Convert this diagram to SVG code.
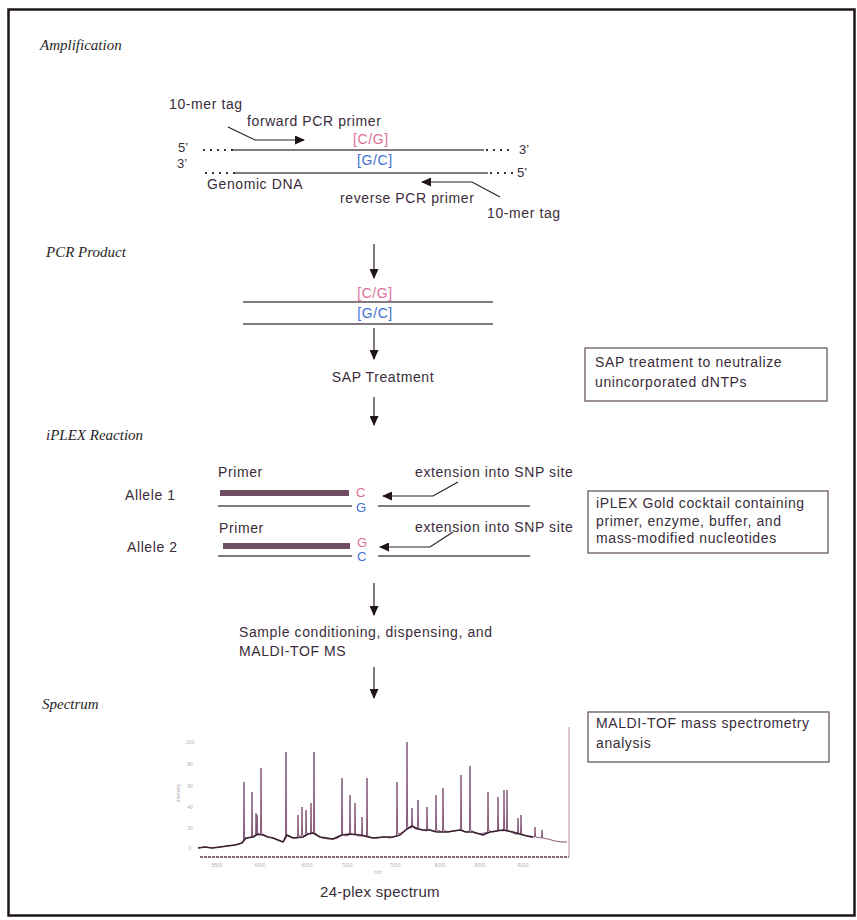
<svg xmlns="http://www.w3.org/2000/svg" width="857" height="920" viewBox="0 0 857 920">
<style>
.t{font-family:"Liberation Sans",Arial,sans-serif;font-size:14px;fill:#3a2c3a;letter-spacing:0.6px}
.sec{font-family:"Liberation Serif","Times New Roman",serif;font-style:italic;font-size:15px;fill:#2a1e28}
.pk{fill:#e0709a}
.bl{fill:#3f6fd6}
.sm{font-size:13px;letter-spacing:0}
.strand{stroke:#5a4a58;stroke-width:1.4;fill:none}
.dots{stroke:#3a2c3a;stroke-width:2;stroke-dasharray:2 5;fill:none}
.arr{stroke:#2a1e28;stroke-width:1.2;fill:none}
.box{fill:none;stroke:#6a5a68;stroke-width:1.3}
.tick{font-family:"Liberation Sans",Arial,sans-serif;font-size:5px;fill:#b8b0b8}
</style>
<defs>
<marker id="ah" markerWidth="10" markerHeight="9" refX="9" refY="4.5" orient="auto" markerUnits="userSpaceOnUse">
<path d="M0,0 L10,4.5 L0,9 z" fill="#1e141c"/>
</marker>
</defs>
<rect x="0" y="0" width="857" height="920" fill="#ffffff"/>
<rect x="8.5" y="9.5" width="846" height="906" fill="none" stroke="#1e141c" stroke-width="2.5"/>

<g id="section-labels">
<text class="sec" x="40" y="50">Amplification</text>
<text class="sec" x="46" y="257">PCR Product</text>
<text class="sec" x="46" y="440">iPLEX Reaction</text>
<text class="sec" x="42" y="709">Spectrum</text>
</g>

<g id="amplification">
<text class="t" x="169" y="109">10-mer tag</text>
<text class="t" x="247" y="126">forward PCR primer</text>
<text class="t pk" x="353" y="144">[C/G]</text>
<text class="t sm" x="178" y="152">5’</text>
<line class="dots" x1="203" y1="150" x2="233" y2="150"/>
<line class="strand" x1="233" y1="150" x2="484" y2="150"/>
<line class="dots" x1="486" y1="150" x2="514" y2="150"/>
<text class="t sm" x="519" y="154">3’</text>
<text class="t bl" x="357" y="165">[G/C]</text>
<text class="t sm" x="177" y="168">3’</text>
<line class="dots" x1="205" y1="173" x2="235" y2="173"/>
<line class="strand" x1="235" y1="173" x2="488" y2="173"/>
<line class="dots" x1="490" y1="173" x2="514" y2="173"/>
<text class="t sm" x="517" y="177">5’</text>
<text class="t" x="207" y="189">Genomic DNA</text>
<text class="t" x="340" y="203">reverse PCR primer</text>
<text class="t" x="487" y="218">10-mer tag</text>
</g>

<g id="pcr-product">
<text class="t pk" x="375" y="298" text-anchor="middle">[C/G]</text>
<line class="strand" x1="243" y1="302" x2="493" y2="302"/>
<text class="t bl" x="375" y="318" text-anchor="middle">[G/C]</text>
<line class="strand" x1="243" y1="324" x2="493" y2="324"/>
</g>

<g id="sap-treatment">
<text class="t" x="383" y="382" text-anchor="middle">SAP Treatment</text>
</g>

<g id="sap-note">
<rect class="box" x="585" y="348" width="242" height="53"/>
<text class="t" x="595" y="367">SAP treatment to neutralize</text>
<text class="t" x="595" y="387">unincorporated dNTPs</text>
</g>

<g id="iplex-reaction">
<text class="t" x="218" y="477">Primer</text>
<text class="t" x="415" y="477">extension into SNP site</text>
<text class="t" x="125" y="500">Allele 1</text>
<rect x="220" y="490" width="129" height="6" fill="#6e4e62"/>
<text class="t pk sm" x="356" y="497">C</text>
<line class="strand" x1="218" y1="506" x2="352" y2="506"/>
<text class="t bl sm" x="356" y="512">G</text>
<line class="strand" x1="378" y1="506" x2="530" y2="506"/>
<text class="t" x="219" y="533">Primer</text>
<text class="t" x="415" y="532">extension into SNP site</text>
<text class="t" x="127" y="552">Allele 2</text>
<rect x="223" y="543" width="127" height="6" fill="#6e4e62"/>
<text class="t pk sm" x="357" y="547">G</text>
<line class="strand" x1="218" y1="556" x2="352" y2="556"/>
<text class="t bl sm" x="357" y="561">C</text>
<line class="strand" x1="378" y1="556" x2="530" y2="556"/>
</g>

<g id="iplex-note">
<rect class="box" x="588" y="491" width="240" height="62"/>
<text class="t" x="596" y="508">iPLEX Gold cocktail containing</text>
<text class="t" x="596" y="526">primer, enzyme, buffer, and</text>
<text class="t" x="596" y="543">mass-modified nucleotides</text>
</g>

<g id="maldi-step">
<text class="t" x="239" y="637">Sample conditioning, dispensing, and</text>
<text class="t" x="239" y="656">MALDI-TOF MS</text>
</g>

<g id="maldi-note">
<rect class="box" x="588" y="712" width="241" height="50"/>
<text class="t" x="596" y="728">MALDI-TOF mass spectrometry</text>
<text class="t" x="596" y="748">analysis</text>
</g>

<g id="spectrum">
<line x1="200" y1="857" x2="569" y2="857" stroke="#5a3a50" stroke-width="1.6" stroke-dasharray="3 1"/>
<line x1="569" y1="727" x2="569" y2="857" stroke="#c090b0" stroke-width="1"/>
<text class="tick" x="190" y="744" text-anchor="middle">100</text>
<text class="tick" x="190" y="766" text-anchor="middle">80</text>
<text class="tick" x="190" y="788" text-anchor="middle">60</text>
<text class="tick" x="190" y="809" text-anchor="middle">40</text>
<text class="tick" x="190" y="830" text-anchor="middle">20</text>
<text class="tick" x="190" y="850" text-anchor="middle">0</text>
<text class="tick" transform="translate(180,793) rotate(-90)" text-anchor="middle">Intensity</text>
<text class="tick" x="217" y="867" text-anchor="middle">5500</text>
<text class="tick" x="260" y="867" text-anchor="middle">6000</text>
<text class="tick" x="307" y="867" text-anchor="middle">6500</text>
<text class="tick" x="347" y="867" text-anchor="middle">7000</text>
<text class="tick" x="395" y="867" text-anchor="middle">7500</text>
<text class="tick" x="440" y="867" text-anchor="middle">8000</text>
<text class="tick" x="480" y="867" text-anchor="middle">8500</text>
<text class="tick" x="523" y="867" text-anchor="middle">9000</text>
<text class="tick" x="378" y="874" text-anchor="middle">m/z</text>
<path fill="none" stroke="#7a4a6c" stroke-width="0.9" stroke-linejoin="round" d="M198,848 L205,847 L212,848 L220,847 L227,846 L235,845 L242,843 L243.5,840 L244,782 L244.6,839 L248,838 L251.5,837 L252,792 L252.6,837 L255.5,836 L256,813 L256.6,834 L257.2,815 L257.8,835 L260.5,835 L261,768 L261.6,833 L264,835 L268,837 L273,838 L278,840 L283,842 L285.5,836 L286,752 L286.6,835 L290,837 L294,838 L297.5,838 L298,815 L298.6,836 L301.5,836 L302,807 L302.6,835 L305.5,836 L306,810 L306.6,833 L310.5,834 L311,803 L311.6,833 L313.5,832 L314,752 L314.6,832 L318,836 L322,838 L328,839 L333,839 L338,838 L341.5,835 L342,778 L342.6,834 L346,836 L349.5,835 L350,795 L350.6,834 L354.5,835 L355,803 L355.6,834 L358,836 L361.5,836 L362,817 L362.6,835 L366.5,836 L367,778 L367.6,836 L372,838 L378,838 L384,837 L390,838 L396.5,836 L397,782 L397.6,834 L401,833 L404,831 L406.5,829 L407,742 L407.6,827 L411.5,828 L412,808 L412.6,826 L415,829 L417.5,829 L418,800 L418.6,828 L422,830 L426.5,831 L427,807 L427.6,829 L432,831 L435.5,832 L436,795 L436.6,830 L440,831 L442.5,832 L443,788 L443.6,830 L448,832 L454,831 L460.5,830 L461,775 L461.6,829 L465,832 L469.5,831 L470,766 L470.6,830 L475,833 L480,834 L484,833 L487.5,832 L488,792 L488.6,831 L493,832 L497.5,831 L498,797 L498.6,830 L503.5,831 L504,790 L504.6,830 L506.5,831 L507,790 L507.6,831 L511,832 L515,834 L517.5,834 L518,818 L518.6,833 L520.5,834 L521,815 L521.6,834 L526,836 L530,837 L534.5,837 L535,827 L535.6,837 L541.5,838 L542,830 L542.6,838 L548,839 L555,841 L562,842 L567,842"/>
<path fill="none" stroke="#3a2030" stroke-width="1.6" stroke-linejoin="round" d="M198,848 L205,847 L212,848 L220,847 L227,846 L235,845 L242,843 L246,838 L253,837 L258,834 L263,835 L268,837 L273,838 L283,842 L287,835 L293,838 L303,837 L308,834 L313,833 L320,837 L333,839 L342,835 L350,834 L360,835 L373,838 L383,837 L393,837 L400,835 L407,829 L412,826 L418,829 L423,830 L430,830 L437,832 L447,832 L460,830 L466,832 L473,832 L483,835 L490,832 L503,830 L513,832 L523,835 L533,837"/>
<text class="t" x="320" y="897" style="font-size:15px;letter-spacing:0.3px">24-plex spectrum</text>
</g>

<g id="connectors">
<polyline class="arr" points="228,127 255,140 304,140" marker-end="url(#ah)"/>
<polyline class="arr" points="500,197 472,182 422,182" marker-end="url(#ah)"/>
<line class="arr" x1="374" y1="244" x2="374" y2="278" marker-end="url(#ah)"/>
<line class="arr" x1="374" y1="328" x2="374" y2="359" marker-end="url(#ah)"/>
<line class="arr" x1="374" y1="397" x2="374" y2="425" marker-end="url(#ah)"/>
<polyline class="arr" points="458,482 433,496 383,496" marker-end="url(#ah)"/>
<polyline class="arr" points="453,532 430,547 380,547" marker-end="url(#ah)"/>
<line class="arr" x1="374" y1="583" x2="374" y2="615" marker-end="url(#ah)"/>
<line class="arr" x1="374" y1="667" x2="374" y2="698" marker-end="url(#ah)"/>
</g>
</svg>
